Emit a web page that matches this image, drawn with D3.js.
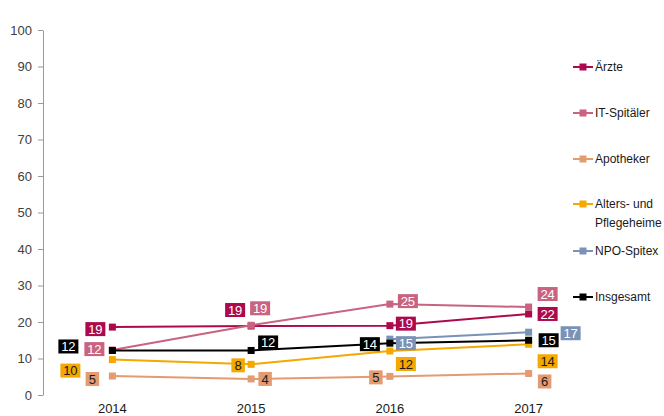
<!DOCTYPE html>
<html lang="de">
<head>
    <meta charset="UTF-8">
    <title>Anteil nach Bereich</title>
    <script src="https://d3js.org/d3.v7.min.js"></script>
    <style>
        body { margin: 0; background: #fff; }
        svg { display: block; font-family: "Liberation Sans", Arial, sans-serif; }
        .y-axis .domain, .y-axis .tick line { stroke: #9a9a9a; }
        .y-axis text { fill: #404040; font-size: 13px; }
        .x-label { fill: #1a1a1a; font-size: 13px; }
        .legend text { fill: #1a1a1a; font-size: 12px; }
    </style>
</head>
<body>
    <div id="chart"></div>
    <script>
        const years = ["2014", "2015", "2016", "2017"];
        const seriesNames = ["Ärzte", "IT-Spitäler", "Apotheker", "Alters- und Pflegeheime", "NPO-Spitex", "Insgesamt"];
        const aerzte = [18.6, 18.9, 19.0, 22.2];
        const itSpitaeler = [12.3, 19.1, 24.9, 24.1];
        const apotheker = [5.2, 4.4, 5.1, 5.9];
        const altersheime = [9.7, 8.4, 12.05, 13.9];
        const npoSpitex = [null, null, 15.3, 17.2];
        const insgesamt = [12.2, 12.2, 14.2, 15.0];
        const yTicks = [0, 10, 20, 30, 40, 50, 60, 70, 80, 90, 100];

        // styling + where each value box sits relative to its point (px)
        const colors = ["#ad0a4e", "#c9637f", "#e39b72", "#f5a800", "#7a92b5", "#000000"];
        const textColors = ["#fff", "#fff", "#1a1a1a", "#1a1a1a", "#fff", "#fff"];
        const labelOffsets = [
            [[-17, 2], [-16, -16], [16, -2], [19, 0]],
            [[-18, -1], [9, -17], [18, -3], [19, -13]],
            [[-20, 3], [14, 0], [-14, 1], [16, 8]],
            [[-42, 11], [-13, 1], [16, 13], [19, 17]],
            [null, null, [16, 4], [42, 1]],
            [[-44, -4], [17, -8], [-20, 1], [20, 0]]
        ];

        const values = [aerzte, itSpitaeler, apotheker, altersheime, npoSpitex, insgesamt];
        const series = seriesNames.map((name, i) => ({
            name: name,
            color: colors[i],
            textColor: textColors[i],
            points: years.map((yr, j) => ({ year: yr, value: values[i][j], offset: labelOffsets[i][j] }))
                .filter(p => p.value !== null)
        }));

        const W = 664, H = 416;
        const svg = d3.select("#chart")
            .append("svg")
            .attr("width", W)
            .attr("height", H);

        const x = d3.scalePoint()
            .domain(years)
            .range([43, 598])
            .padding(0.5);

        const y = d3.scaleLinear()
            .domain([0, 100])
            .range([395, 30]);

        svg.append("g")
            .attr("class", "y-axis")
            .attr("transform", "translate(43,0)")
            .call(d3.axisLeft(y).tickValues(yTicks).tickSize(5).tickPadding(6).tickSizeOuter(0));

        svg.selectAll(".x-label")
            .data(years)
            .enter()
            .append("text")
            .attr("class", "x-label")
            .attr("x", d => x(d))
            .attr("y", 413)
            .attr("text-anchor", "middle")
            .text(d => d);

        const line = d3.line()
            .x(d => x(d.year))
            .y(d => y(d.value));

        const groups = svg.selectAll(".series")
            .data(series)
            .enter()
            .append("g")
            .attr("class", "series");

        groups.append("path")
            .attr("d", d => line(d.points))
            .attr("fill", "none")
            .attr("stroke", d => d.color)
            .attr("stroke-width", 2);

        groups.selectAll("rect.marker")
            .data(d => d.points.map(p => ({ ...p, color: d.color })))
            .enter()
            .append("rect")
            .attr("class", "marker")
            .attr("x", d => x(d.year) - 3.5)
            .attr("y", d => y(d.value) - 3.5)
            .attr("width", 7)
            .attr("height", 7)
            .attr("fill", d => d.color);

        // value boxes on top
        const labels = svg.append("g");
        series.forEach(s => {
            s.points.forEach(p => {
                const txt = String(Math.round(p.value));
                const cx = x(p.year) + p.offset[0];
                const cy = y(p.value) + p.offset[1];
                const w = txt.length > 1 ? 20 : 13.5;
                const g = labels.append("g");
                g.append("rect")
                    .attr("x", cx - w / 2)
                    .attr("y", cy - 7)
                    .attr("width", w)
                    .attr("height", 14)
                    .attr("fill", s.color);
                g.append("text")
                    .attr("x", cx)
                    .attr("y", cy + 4.7)
                    .attr("text-anchor", "middle")
                    .attr("font-size", "13px")
                    .attr("fill", s.textColor)
                    .text(txt);
            });
        });

        // legend
        const legend = svg.append("g").attr("class", "legend");
        const legendY = [67, 113, 159, 204, 251, 297];
        series.forEach((s, i) => {
            const g = legend.append("g").attr("transform", `translate(573,${legendY[i]})`);
            g.append("line")
                .attr("x1", 0).attr("x2", 20)
                .attr("stroke", s.color)
                .attr("stroke-width", 2);
            g.append("rect")
                .attr("x", 6.5).attr("y", -3.5)
                .attr("width", 7).attr("height", 7)
                .attr("fill", s.color);
            const t = g.append("text")
                .attr("x", 22)
                .attr("y", 4.3);
            if (s.name === "Alters- und Pflegeheime") {
                t.append("tspan").attr("x", 22).text("Alters- und");
                t.append("tspan").attr("x", 22).attr("dy", 18.4).text("Pflegeheime");
            } else {
                t.text(s.name);
            }
        });
    </script>
</body>
</html>
